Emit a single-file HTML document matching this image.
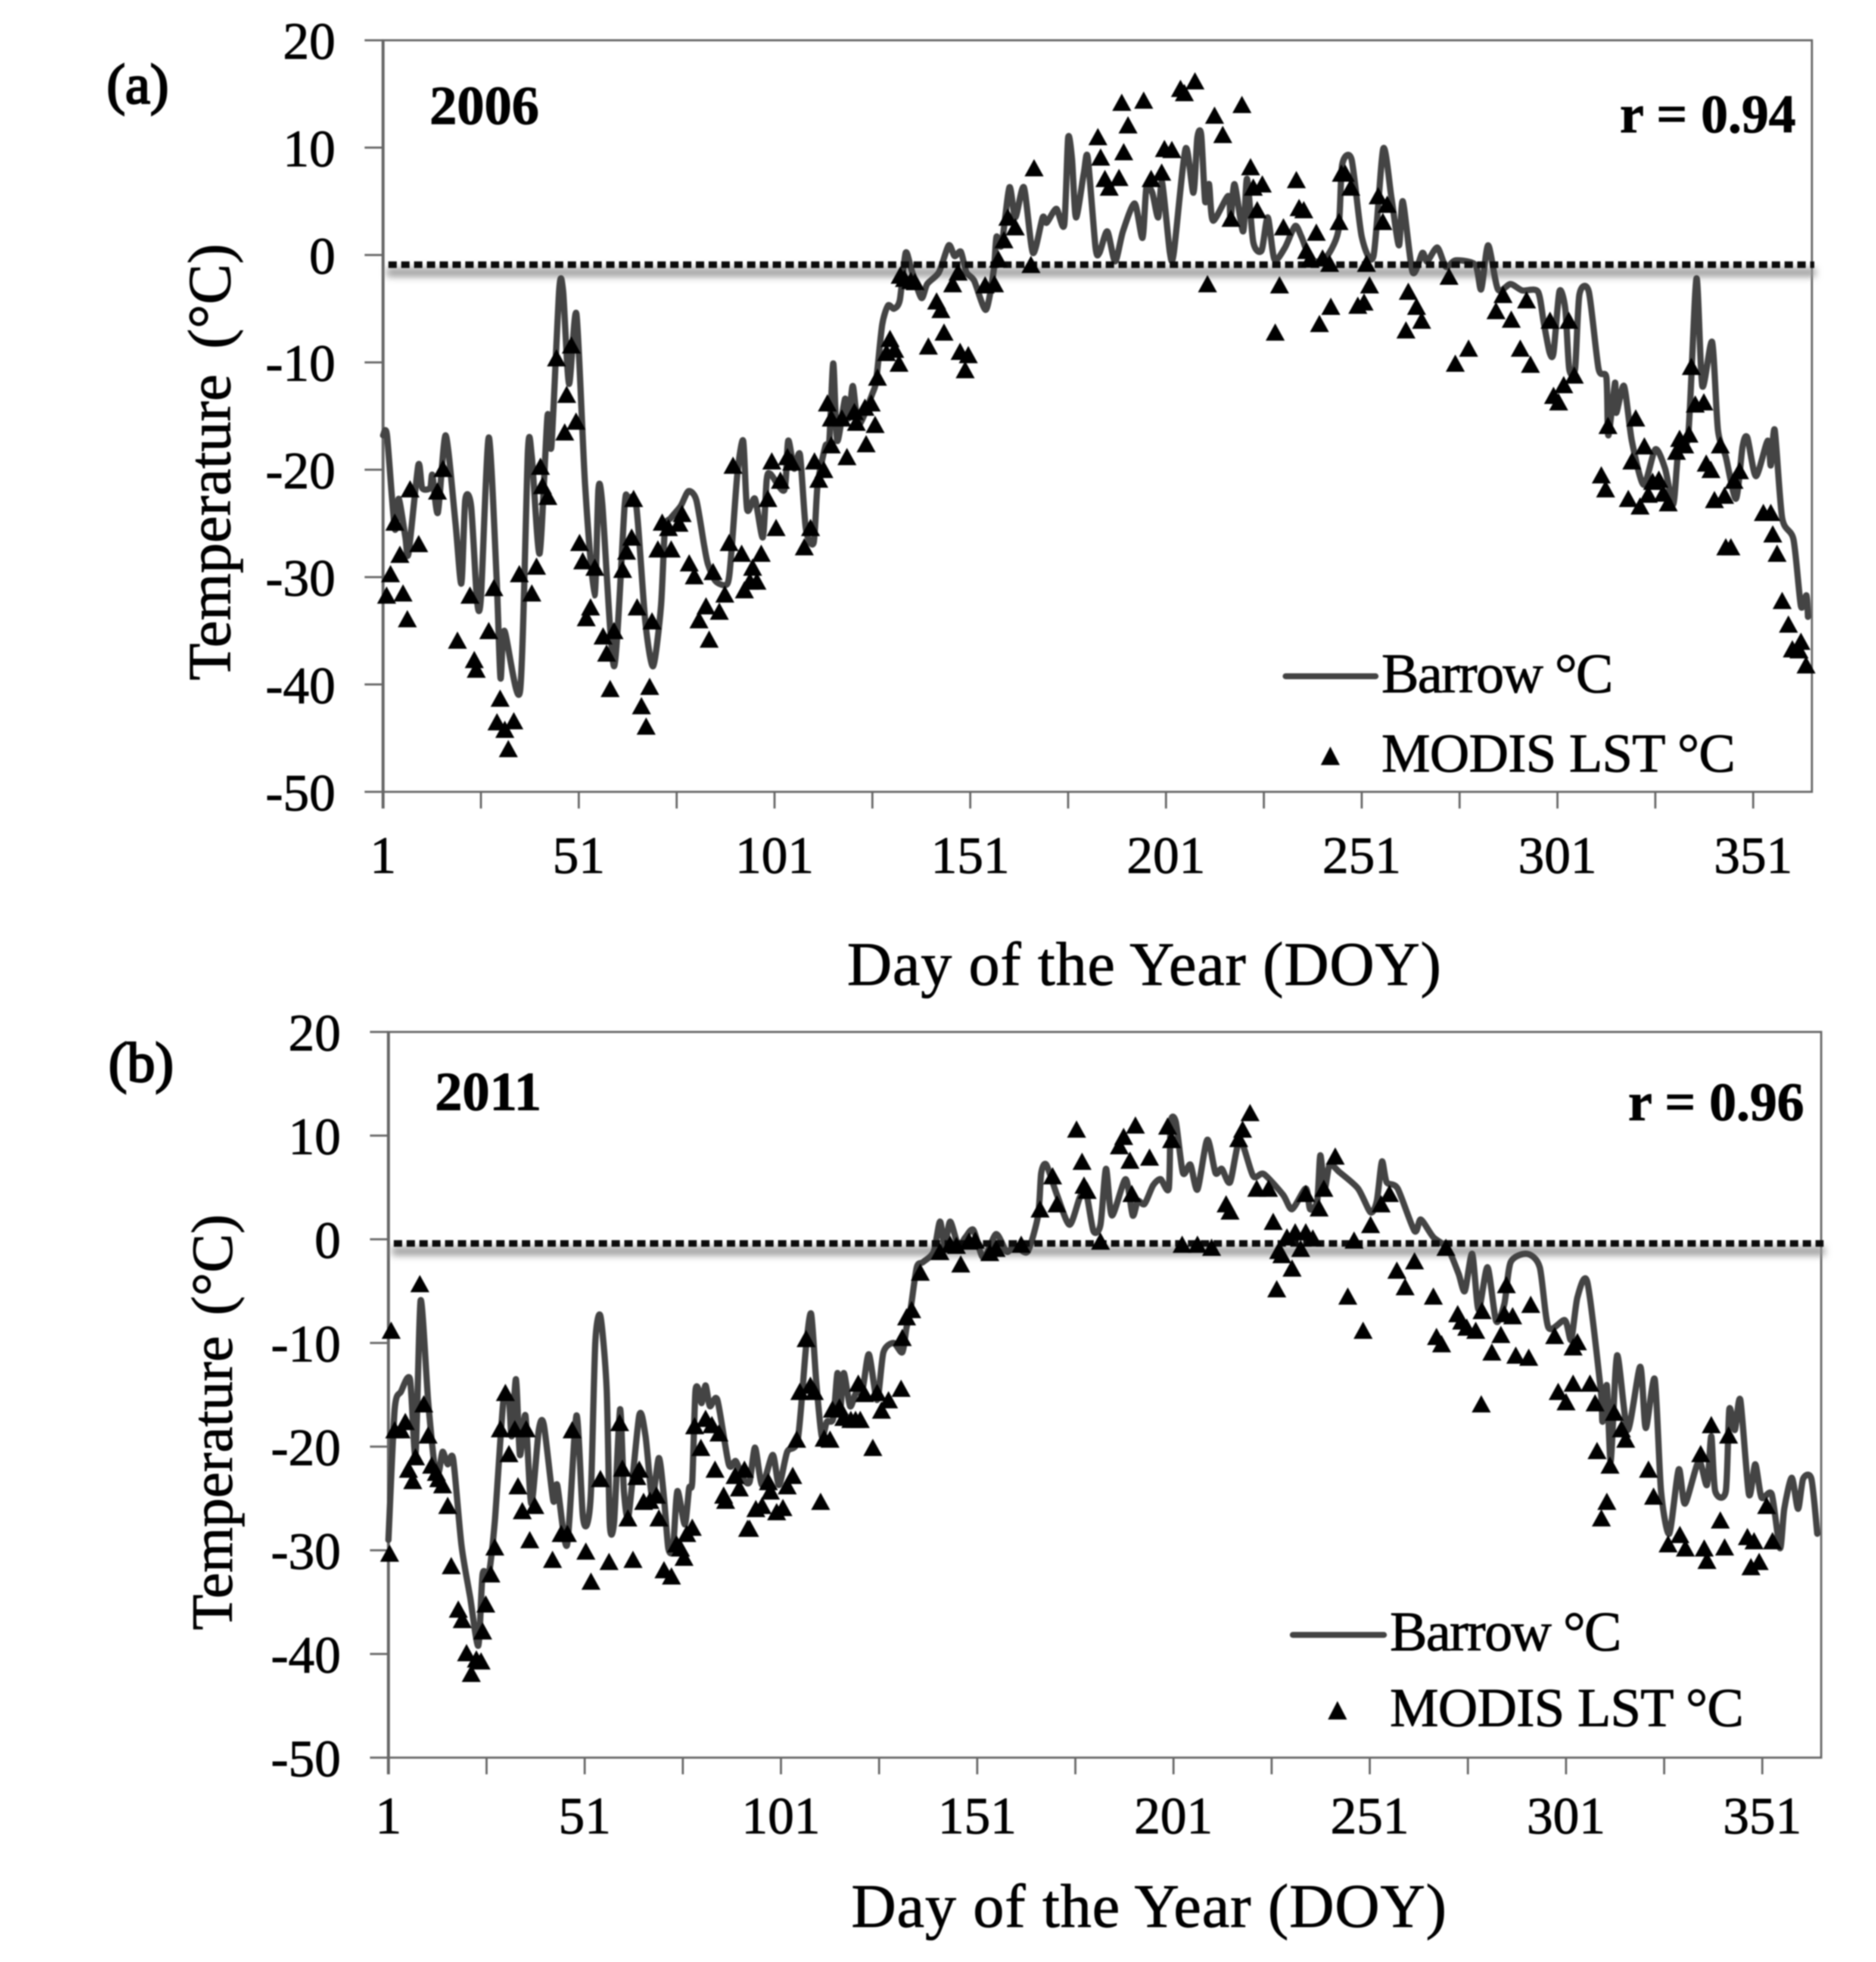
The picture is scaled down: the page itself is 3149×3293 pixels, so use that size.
<!DOCTYPE html>
<html lang="en">
<head>
<meta charset="utf-8">
<title>Barrow and MODIS LST temperature, 2006 and 2011</title>
<style>
html,body{margin:0;padding:0;background:#fff;width:3149px;height:3293px;overflow:hidden}
svg{display:block;filter:blur(1.1px)}
text{font-family:"Liberation Serif",serif;fill:#000;stroke:#000;stroke-width:1.1px}
</style>
</head>
<body>
<svg id="chart" xmlns="http://www.w3.org/2000/svg" width="3149" height="3293" viewBox="0 0 3149 3293">
<defs>
<filter id="soft" x="-5%" y="-300%" width="110%" height="700%"><feGaussianBlur stdDeviation="6"/></filter>
</defs>
<rect width="3149" height="3293" fill="#fff"/>
<g id="panelA">
<text x="179" y="173" font-size="94" style="stroke-width:3px">(a)</text>
<text x="721" y="208" font-size="92" font-weight="bold">2006</text>
<text x="2719" y="222" font-size="91" font-weight="bold">r = 0.94</text>
<text transform="translate(386 1142) rotate(-90)" font-size="102" word-spacing="17">Temperature (°C)</text>
<text x="1422" y="1653" font-size="104" textLength="997" lengthAdjust="spacing">Day of the Year (DOY)</text>
<line x1="2158" y1="1135" x2="2309" y2="1135" stroke="#444" stroke-width="10" stroke-linecap="round"/>
<text x="2319" y="1162" font-size="94" textLength="389" lengthAdjust="spacing">Barrow °C</text>
<polygon points="2233,1253 2249,1284 2217,1284" fill="#000"/>
<text x="2319" y="1295" font-size="92" textLength="594" lengthAdjust="spacing">MODIS LST °C</text>
</g>
<g id="panelB">
<text x="182" y="1815" font-size="94" style="stroke-width:3px">(b)</text>
<text x="730" y="1863" font-size="92" font-weight="bold">2011</text>
<text x="2733" y="1880" font-size="91" font-weight="bold">r = 0.96</text>
<text transform="translate(389 2736) rotate(-90)" font-size="98" word-spacing="10">Temperature (°C)</text>
<text x="1429" y="3234" font-size="104" textLength="999" lengthAdjust="spacing">Day of the Year (DOY)</text>
<line x1="2170" y1="2744" x2="2323" y2="2744" stroke="#444" stroke-width="10" stroke-linecap="round"/>
<text x="2333" y="2770" font-size="94" textLength="389" lengthAdjust="spacing">Barrow °C</text>
<polygon points="2245,2855 2261,2886 2229,2886" fill="#000"/>
<text x="2333" y="2897" font-size="92" textLength="594" lengthAdjust="spacing">MODIS LST °C</text>
</g>
</svg>
<script>
var yTickValues = [20,10,0,-10,-20,-30,-40,-50];
var xMinorTickDays = [1,26,51,76,101,126,151,176,201,226,251,276,301,326,351];
var xTickLabels = [1,51,101,151,201,251,301,351];
var thresholdA = -0.9;
var thresholdB = -0.4;

var barrowDays2006 = [1,2,4,5,6.7,7.5,10,11,13,13.6,15,17,19.5,21,22,23.5,25,26,28,30,31,32,36,38,39,41,43,44,46,47,48.5,50.4,52.6,55,56,57,60,62.7,63.5,65.7,68,70,72,73,74.5,77,79,81,83,84,86,89,90,91.5,93,94,96,98,99,100,103.5,104.5,106,107.5,109,111,112,114,115,116,117,119,120,121,122.5,126,127,128.5,130,131.5,133,134.5,136,138.5,140,143,145.5,147,148.6,150,152,155,157,157.7,159,161,162.5,164.7,167,169.5,170.5,173,175,176,177,178,180,181,183,184,186,188,190,193,195,196,197.5,199,200,202,203,206,208,209,210,211,212,213,216.9,217.5,218.5,220.7,221.7,223.3,225.4,227,228.7,231.4,234,235.6,238,241.5,245,246,248.4,251,254,256.5,258.6,260.5,261.5,264,266.5,267.7,270.3,272.5,275,280,281.5,283.3,285.8,289,292,296,297.5,299,300,301.5,303,304,305.5,306.6,309,311.5,313.5,314,315.7,316,318,320,323,326,328.5,330.6,332,334.4,336.5,338,340.5,342,344,346.6,348.3,349.5,351.7,354.7,355.5,356.5,358.4,361.3,363.2,364.6,365];
var barrowTemps2006 = [-16.8,-16.8,-25.5,-22.7,-26.3,-27.8,-19.6,-21.7,-21.7,-20.5,-24,-16.8,-25,-30.6,-22.8,-23.4,-32.2,-31.9,-17,-30.1,-39.4,-35,-40.6,-18.3,-18.8,-27.8,-15,-17.8,-3.2,-3.4,-12,-5.5,-21.4,-31.7,-21.9,-23.2,-38.3,-23.4,-22.7,-23.4,-34.2,-38.3,-32.7,-25.5,-24.5,-23.4,-22,-22.8,-27,-28.8,-30.4,-30.6,-27.6,-20.4,-17.3,-23.7,-22.7,-26.3,-20.9,-20.4,-21.9,-17.3,-19.9,-18.6,-25.5,-26.8,-21.4,-17.8,-17.3,-10.1,-17.3,-13.4,-15.2,-12.2,-15.8,-12.9,-11.6,-6.5,-4.7,-5,-4.2,0.2,-1.4,-4,-2.7,-1.6,0.9,-0.1,0.3,-1.6,-2.4,-5.1,-1.4,1.7,0.9,6.3,3.5,6.3,0.2,3.5,3,4.3,2.8,10.9,8.9,3.5,7.6,9.1,0.7,0.2,2.2,-0.6,2.2,4.8,1.6,6.3,5.8,3.5,6.8,0.2,0.2,9.9,5.8,10.9,11.2,5,6.6,3.2,5.5,3.2,6.6,2.2,7.1,1.2,0.4,3.5,-0.4,0.7,2.7,1.7,-0.4,-0.4,2.2,8.4,8.9,1.7,-0.1,9.9,5.3,0.9,5,-1.6,0.2,-0.6,0.7,-1.1,-0.5,-0.9,-3.2,0.9,-3.2,-2.7,-3.3,-3.4,-6.3,-9.1,-9.1,-3.4,-5,-10.6,-10.6,-3.7,-3.4,-10.6,-11.4,-16.8,-11.9,-14.7,-12.2,-17.3,-21.4,-18.1,-19.9,-23.2,-17.8,-16.8,-2.2,-12.2,-8.1,-16.3,-18.8,-22.7,-17.8,-17,-20.6,-17.3,-19.6,-16.3,-24.5,-26.5,-32.7,-31.7,-33.7];

var modisDays2006 = [1.9,2.9,4,5.3,6.1,7.2,7.9,10.1,14.9,16.3,20,23.2,24.3,24.8,28,29.3,30.9,30.1,32.1,34.4,33,35.8,39,40.2,41.2,41.7,43.1,45.3,47.4,47.9,49.1,50.3,51.2,52,52.9,54,55.1,57.2,58.1,59,60,62.2,63.2,64.5,65,65.9,67,68.2,69.1,69.7,72.3,73.9,76.6,77.4,71.2,74.6,79.2,80.5,83.5,81.7,86.9,84.3,85.3,88.3,89.4,90.4,92.6,93.3,94.7,95.4,96.5,97.6,99.3,100.3,101.4,102.5,104.3,105.4,108.6,110.2,111.2,112.3,113.6,114.5,115.5,115.5,118.2,119.5,121.4,121.9,124.1,125.7,124.4,126.7,127.3,129.6,130.5,131.7,132.8,133.1,134.2,135.8,136.9,140.3,142.4,143.5,144.3,146.5,147.9,148.4,150.5,149.7,154.8,157.2,158.2,159.6,160.6,162.5,166.5,167.3,183.6,184.3,185.4,186.5,189,190.2,189.7,191.3,195.3,197.2,199.9,200.6,202.5,204.7,205.7,208.4,211.6,213.4,215.5,217.6,220.4,222.6,223.3,225.6,224.3,228.9,230,231,234.3,235,236.2,239.4,236.9,237.8,241,242.8,240.2,243.1,245.2,245.8,246.8,248.2,250,251.6,253,252.2,255.2,256.4,257.5,262.3,262.9,265,266.3,273.3,274.9,278.3,285.3,287.1,289.2,291.5,293.1,294.1,299.1,300,301.3,302.6,303.9,305.3,312.2,313.3,313.9,319.1,320,321,322.1,323.2,324.2,325.3,326.9,328,329.3,331.4,332.2,333.5,334.6,335.2,336.2,338.4,339,340.2,341.1,342.6,343.7,344,345.3,346.1,347.5,353.6,355.5,356,357.1,358.4,360,361,363.2,362.7,364.5];
var modisTemps2006 = [-31.7,-29.7,-24.9,-27.9,-31.5,-33.9,-21.8,-26.9,-22,-19.9,-35.9,-31.7,-37.7,-38.6,-35,-31,-41.3,-43.5,-44.2,-43.4,-46,-29.7,-31.5,-29,-19.7,-21.5,-22.5,-9.6,-16.5,-13,-8.4,-15.5,-26.8,-28.5,-33.8,-32.8,-29.1,-35.5,-37.1,-40.4,-35,-29.3,-27.6,-26.3,-22.7,-32.8,-42,-43.9,-40.2,-34.1,-24.9,-25.4,-25,-24.1,-27.4,-27.4,-28.7,-29.9,-32.7,-34,-33.2,-35.8,-29.5,-31.6,-26.8,-19.6,-27.8,-31.2,-30.4,-29.1,-30.4,-27.8,-22.7,-19.2,-25.4,-21,-18.8,-19.3,-27.2,-25.4,-19.2,-20.9,-20,-13.8,-15.2,-17.7,-15.2,-18.8,-14.6,-15.6,-14.2,-13.8,-17.6,-15.8,-11.4,-9.1,-7.8,-8.8,-10.1,-1.9,-2.2,-2.4,-2.5,-8.5,-4.3,-5.1,-7.2,-2.7,-1.6,-9,-9.3,-10.7,-2.8,-2.7,-0.4,1.4,3.5,2.6,-0.9,8.1,11,9.1,7.1,6.3,7.2,9.6,14.2,12.1,14.4,7.1,7.7,9.9,9.8,15.5,15.1,16.2,-2.7,13,11.2,3.4,14,8.2,6.3,6.6,4.2,-7.2,-2.8,2.6,7,4.4,4.2,2.1,0.4,-0.4,-0.3,-0.8,-6.4,-4.8,3.1,7.6,7.6,6.3,-4.7,-4.4,-2.8,-0.8,5.5,3.1,4.7,-7,-3.4,-4.8,-6.1,-2,-10.1,-8.7,-5.2,-3.7,-6,-8.7,-4.2,-10.2,-6.1,-13.1,-13.7,-12.1,-6.1,-11.2,-20.5,-21.8,-15.9,-22.7,-19.2,-15.2,-23.4,-17.8,-22.3,-21.1,-20.9,-22.2,-23.1,-18.3,-17.1,-17.7,-16.7,-10.4,-13.9,-13.7,-19.4,-20,-22.8,-17.7,-22.4,-27.2,-27.2,-21,-20.1,-24,-24,-26,-27.8,-32.2,-34.4,-36.7,-36,-36.8,-38.2];

var barrowDays2011 = [1,2.6,4.2,6.5,7.9,9.2,11.1,12.7,13.8,14.8,16.1,17.5,19.6,21.8,23.9,25,26.6,28.1,30.3,31.7,32.4,33.5,34.5,35.9,37.4,39.3,40.6,43,44,46.5,48.9,50.5,51.6,52.6,53.7,55,56.6,57.4,58.5,60,61,62.2,64.9,66.5,68.2,69.9,71.2,72.3,73.5,74.6,76.5,77.6,78.4,79.2,80.2,80.8,81.8,82.9,84.8,87.7,89.5,91.4,93,94.4,96.2,98.9,100.5,102.6,105.3,107.4,108.7,110,111.4,112.7,114.3,115.4,116.1,117,118.6,120,121.8,123.4,125.5,127.1,129.7,131.9,133,134,135.6,137.2,139.9,141.5,142.7,144.1,146.2,148,150,152.6,155.8,158.5,160.6,163.8,166.5,167.3,168.6,171.3,174.5,177.1,178.7,180.6,182.4,183.8,185.3,188.8,190.6,191.9,193.6,195.8,197.7,199.8,200.3,201.6,203.4,205.3,207.1,209.6,211.7,213.3,215.4,217.9,221.3,224,228.9,231.2,234.7,235.8,237.6,238.4,239.5,240.8,243.2,248,251.2,252.8,254.1,255.3,258.1,262.4,264,267.2,270.9,273.6,275.2,277.1,278.7,281,283.2,285.3,286.9,291.1,294.3,296.5,300.7,302.3,303.9,306.4,309.8,310.3,311.4,312.4,314,316.7,319.9,321.3,323.6,325.2,327.3,329.7,331.3,334.8,336.9,338,339,341.7,342.6,344,345.4,347.6,349.2,350.8,353.4,355.5,356.6,358.5,360.1,361.4,363.5,365];
var barrowTemps2011 = [-29,-16.4,-14.7,-13.5,-20.8,-5.9,-15.5,-21.7,-22.5,-20.5,-21.7,-21.2,-29.5,-34.5,-39.2,-32.3,-32.2,-27.2,-15.5,-15.5,-19,-13.5,-20.8,-17,-25.5,-18.4,-17.9,-25.2,-23.7,-29.5,-17,-26.6,-27.5,-24.3,-10,-7.4,-14.4,-27.5,-27.2,-16.4,-24.3,-26.6,-17,-19,-24.9,-21.1,-24.9,-29.8,-29.8,-24.3,-27.5,-24,-23.4,-14.7,-14.7,-15.8,-14.1,-16.1,-15.5,-21.7,-21.4,-23.1,-23.4,-20.1,-23.7,-20.8,-23.7,-20.5,-19.3,-10.3,-7.2,-13.8,-19,-17.6,-17.3,-12.9,-16.4,-12.9,-16.1,-14.9,-14.4,-11.1,-15.5,-10.9,-10,-10.9,-8.5,-6.8,-2.7,-2.2,-1.2,1.7,-0.6,1.7,-0.6,0.2,0.9,-1.8,0.5,-1.2,-0.6,-1.2,2.3,6.4,7.2,4.3,1.4,4,4.6,0.8,1.4,6.8,2.3,5.8,2.3,3.7,3.4,5.2,5.8,4.9,11.3,11.3,6.4,7.2,4.8,9.6,6.4,6.8,5.5,9.6,6.1,6.3,4.3,2.9,4.9,2.9,3.7,8.1,4.9,7.2,6.5,4.9,2.6,3.7,7.5,5.5,4.9,0.8,1.9,0.2,-0.9,-3.3,-5,-1.4,-6.8,-2.7,-7.9,-6.2,-2.2,-1.4,-2.7,-8.5,-7.8,-9.7,-5.6,-4.1,-14.4,-17.6,-14.1,-21.4,-11.2,-18.4,-12.3,-18.2,-13.5,-24.3,-28.4,-22.2,-25.5,-21.4,-23.7,-19,-24.3,-24.3,-16.4,-18.4,-15.5,-24.6,-21.7,-24.9,-24.6,-29.8,-26,-23,-26,-23.1,-23.1,-28.4];

var modisDays2011 = [1.7,1.3,2.6,4.2,5.3,6.1,7.2,7.9,9,10,11.1,12,13.2,13.8,14.8,16.1,17,18.8,19.8,20.9,22.1,23.4,24.6,25,25.8,27.1,28.1,29.5,30.8,31.7,33.2,34,35.1,36.1,37,38.3,42.8,45,46.6,47.8,51.3,52.6,55,57.2,59.9,60.6,62,63.3,64.3,64.9,66,67.6,69.3,69.9,71.2,73.1,74.4,75.4,76.3,77,78.4,79,80.6,81.8,83.4,84.2,85.2,86.4,86.9,89.3,90.4,91.7,92.5,93,94.6,96.2,97.8,98.3,99.9,101.5,102.6,104,105,105.8,107.4,108.5,109.5,111.1,112,113.5,114.1,115.9,117,118.8,120,121.2,120.7,122.3,124.4,125.5,126.6,128.4,131.6,131.9,133,134.3,136.5,141.5,144.1,146.8,145.7,148.9,150.5,154.2,155.8,162.2,167,170.2,171.3,176.3,177.7,178.2,179,182.4,187.2,188.3,189.9,191.3,190.4,194.9,199.5,200.5,203.2,207.1,210.7,214.4,215.4,217.6,218.6,220.5,222.2,225.2,226.4,227.3,227.8,228.6,229.9,231.2,232,233.4,234.7,234.7,236.5,238.1,239.3,242.2,245.4,247,249.3,251.2,253.9,256,257.9,260,262.4,267.2,268,269.3,270.4,273.4,274.4,275.7,278,279.4,279.6,282.1,284.4,285.8,285.3,287.4,288.2,291.5,292,298.1,299,301,302.8,302.8,303.9,307.1,308.4,308.9,310,311.4,312.2,313.3,315.1,316.2,322,323.3,327,330,331.4,335.3,336.2,336.9,338,340.3,341.4,342.4,347.2,348.9,348.1,350.2,352.1,353.6];
var modisTemps2011 = [-8.8,-30.3,-18.4,-18.4,-17.6,-22.2,-23.3,-21,-4.3,-15.9,-18.9,-21.8,-22.5,-23.1,-23.7,-25.7,-31.5,-35.7,-36.7,-39.9,-41.9,-40.5,-40.7,-37.8,-35.2,-32.3,-29.7,-18.3,-14.8,-20.7,-18.3,-23.8,-26.2,-18.3,-29,-25.7,-30.9,-28.4,-28.4,-18.4,-30.1,-33,-23.1,-31.1,-17.7,-22.1,-26.9,-30.9,-22.9,-22.2,-25.3,-25.2,-24.7,-26.9,-31.9,-32.5,-29.4,-29.8,-30.7,-28.4,-27.8,-18,-20.1,-17.3,-17.9,-22.2,-18.7,-24.7,-25.2,-22.8,-24,-22.2,-27.9,-27.9,-26,-25.7,-23.4,-24.3,-26.3,-25.9,-23.8,-22.8,-19.3,-14.7,-9.6,-14.1,-14.7,-25.3,-19.2,-19.3,-16.4,-16.2,-17.2,-17.4,-17.4,-17.4,-13.9,-14.9,-20.1,-14.8,-16.5,-15.5,-14.4,-9.5,-7.5,-6.8,-3.2,-1.2,-0.5,-2.4,-0.6,-0.2,-0.1,-1.3,-0.9,-0.5,2.9,6.1,3.4,10.6,7.5,5.2,4.7,-0.2,9,9.9,7.6,11,4.4,7.9,10.9,9.6,-0.5,-0.5,-0.8,3.4,2.7,9.7,10.6,12.2,4.9,4.9,1.7,-4.8,-1.1,-1.5,0.2,-2.8,0.7,-0.9,0.7,4.4,0.1,3,4.9,8,-5.5,-0.1,-8.8,1.4,3.4,4.4,-3,-4.6,-2.1,-5.5,-9.4,-10.1,-0.8,-7.2,-7.9,-8.5,-8.8,-15.9,-6.9,-10.9,-9.2,-4.4,-7.2,-7.4,-11.2,-11.4,-6.3,-9.3,-14.7,-15.7,-13.9,-10.4,-9.9,-13.9,-15.8,-20.4,-26.9,-25.3,-21.8,-16.7,-18.3,-19.3,-22.2,-24.8,-29.4,-28.5,-29.8,-20.7,-29.8,-31,-17.9,-27.1,-29.7,-18.9,-28.7,-29.1,-31.6,-31.1,-25.7,-29.1];

var SVGNS = 'http://www.w3.org/2000/svg';

function el(parent, tag, attrs) {
  var node = document.createElementNS(SVGNS, tag);
  for (var k in attrs) { node.setAttribute(k, attrs[k]); }
  parent.appendChild(node);
  return node;
}

function smoothPath(xs, ys) {
  var d = 'M' + xs[0].toFixed(1) + ' ' + ys[0].toFixed(1);
  var n = xs.length;
  for (var i = 0; i < n - 1; i++) {
    var a = Math.max(i - 1, 0);
    var b = Math.min(i + 2, n - 1);
    var c1x = xs[i] + (xs[i + 1] - xs[a]) / 8;
    var c1y = ys[i] + (ys[i + 1] - ys[a]) / 8;
    var c2x = xs[i + 1] - (xs[b] - xs[i]) / 8;
    var c2y = ys[i + 1] - (ys[b] - ys[i]) / 8;
    d += 'C' + c1x.toFixed(1) + ' ' + c1y.toFixed(1) + ' ' + c2x.toFixed(1) + ' ' + c2y.toFixed(1) + ' ' + xs[i + 1].toFixed(1) + ' ' + ys[i + 1].toFixed(1);
  }
  return d;
}

function drawPanel(parent, suffix, box, threshold, lineDays, lineTemps, pointDays, pointTemps) {
  function sx(day) { return box.left + (day - 1) * box.perDay; }
  function sy(t) { return box.zero - t * box.perDegree; }
  var right = sx(366);
  var top = sy(20);
  var bottom = sy(-50);

  var frame = el(parent, 'rect', {x: box.left, y: top, width: right - box.left, height: bottom - top, fill: 'none', stroke: '#666', 'stroke-width': 3.5});
  
  

  var leftAxis = el(parent, 'line', {x1: box.left, x2: box.left, y1: top, y2: bottom + 28, stroke: '#666', 'stroke-width': 5});
  
  

  yTickValues.forEach(function (v) {
    var tick = el(parent, 'line', {x1: box.left - 31, x2: box.left, y1: sy(v), y2: sy(v), stroke: '#666', 'stroke-width': 3.5});
    
    
    var label = el(parent, 'text', {x: box.left - 80, y: sy(v) + 31, 'font-size': 88, 'text-anchor': 'end'});
    label.textContent = String(v);
    
    
  });

  xMinorTickDays.forEach(function (d) {
    var tick = el(parent, 'line', {x1: sx(d), x2: sx(d), y1: bottom, y2: bottom + 28, stroke: '#666', 'stroke-width': 3.5});
    
    
  });

  xTickLabels.forEach(function (d) {
    var label = el(parent, 'text', {x: sx(d), y: box.xLabelY, 'font-size': 88, 'text-anchor': 'middle'});
    label.textContent = String(d);
    
    
  });

  var shadow = el(parent, 'rect', {x: box.left + 6, width: right - box.left, y: sy(threshold) + 6, height: 14, fill: '#999', filter: 'url(#soft)'});
  
  

  var path = smoothPath(lineDays.map(sx), lineTemps.map(sy));
  var series = el(parent, 'path', {d: path, fill: 'none', stroke: '#444', 'stroke-width': 10.5, 'stroke-linejoin': 'round', 'stroke-linecap': 'round'});
  
  

  var dotted = el(parent, 'line', {x1: box.left + 9, x2: right + 4, y1: sy(threshold), y2: sy(threshold), stroke: '#0c0c0c', 'stroke-width': 11, 'stroke-dasharray': '14 7.5'});
  
  

  pointDays.forEach(function (d, i) {
    var x = sx(d);
    var y = sy(pointTemps[i]);
    var mark = el(parent, 'polygon', {points: x + ',' + (y - 15) + ' ' + (x + 16) + ',' + (y + 14) + ' ' + (x - 16) + ',' + (y + 14), fill: '#000'});
    
    
  });
}

drawPanel(document.getElementById('panelA'), 'a',
  {left: 643, perDay: 6.571, zero: 428, perDegree: 18.02, xLabelY: 1465},
  thresholdA, barrowDays2006, barrowTemps2006, modisDays2006, modisTemps2006);

drawPanel(document.getElementById('panelB'), 'b',
  {left: 652, perDay: 6.589, zero: 2080, perDegree: 17.4, xLabelY: 3077},
  thresholdB, barrowDays2011, barrowTemps2011, modisDays2011, modisTemps2011);
</script>
</body>
</html>
